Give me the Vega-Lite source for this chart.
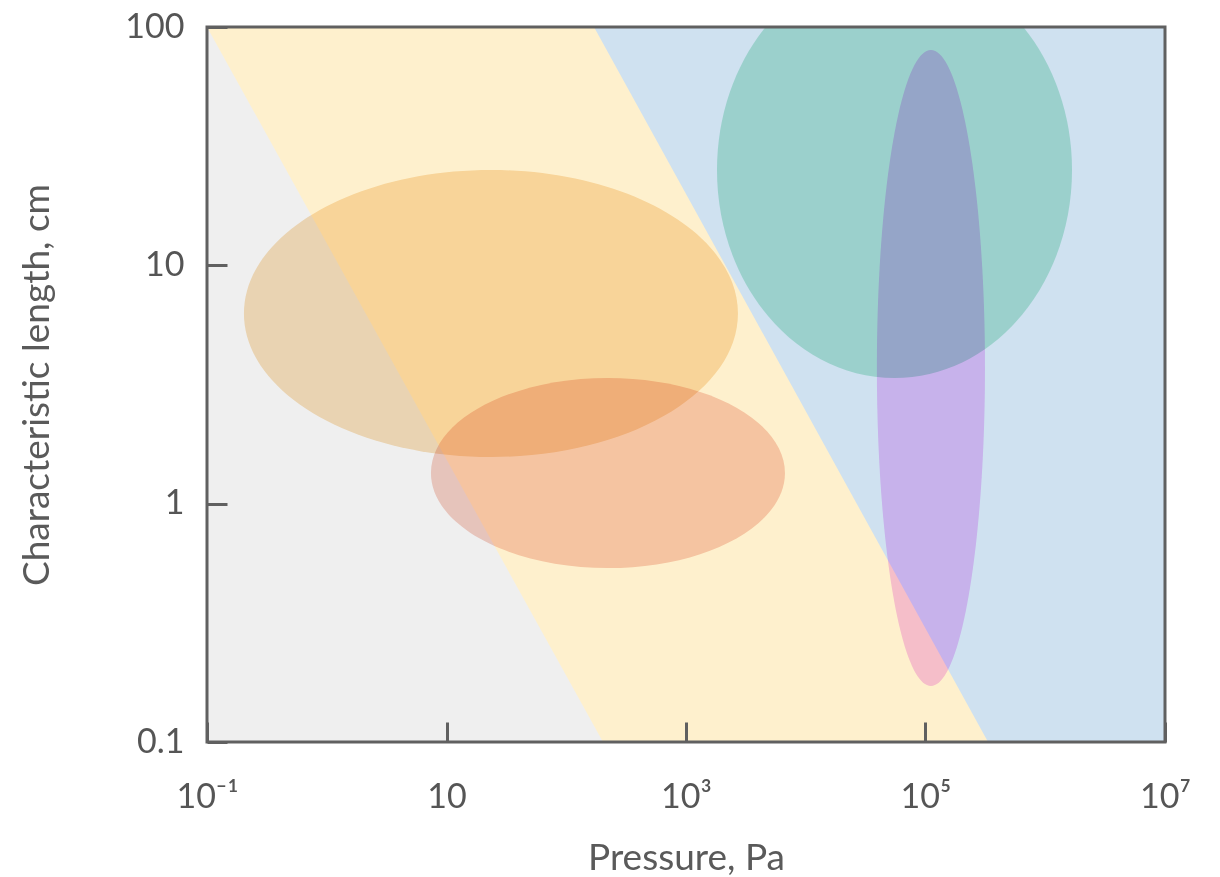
{
  "$schema": "https://vega.github.io/schema/vega-lite/v6.json",
  "width": 958,
  "height": 715,
  "autosize": {"type": "none"},
  "padding": {"left": 207, "top": 27, "right": 55, "bottom": 135},
  "background": "white",
  "config": {
    "font": "Lato",
    "view": {"stroke": null}
  },
  "datasets": {
    "blue": [{"p": 0.1, "p2": 10000000, "len": 0.1, "len2": 100}],
    "yellow": [{"p": 0.1, "len": 100}, {"p": 170.5, "len": 100}, {"p": 333000, "len": 0.1}],
    "gray": [{"p": 0.1, "len": 100}, {"p": 202.7, "len": 0.1}],
    "tan": [{"p": 23.5, "len": 6.28}],
    "salmon": [{"p": 223, "len": 1.345}],
    "teal": [{"p": 55100, "len": 25.1}],
    "lavender": [{"p": 111000, "len": 3.71}]
  },
  "layer": [
    {
      "data": {"name": "blue"},
      "mark": {"type": "rect", "fill": "#cfe1f0", "strokeWidth": 0},
      "encoding": {
        "x": {
          "field": "p", "type": "quantitative",
          "scale": {"type": "log", "domain": [0.1, 10000000], "nice": false},
          "axis": {
            "title": "Pressure, Pa",
            "values": [0.1, 10, 1000, 100000, 10000000],
            "labelExpr": "datum.value < 1 ? '10⁻¹' : datum.value < 100 ? '10' : datum.value < 10000 ? '10³' : datum.value < 1000000 ? '10⁵' : '10⁷'",
            "grid": false, "domain": false, "zindex": 1,
            "tickSize": -20, "tickWidth": 3, "tickColor": "#606060",
            "labelFontSize": 34, "labelColor": "#555555", "labelPadding": 58,
            "labelFlush": false, "labelOverlap": false,
            "titleFontSize": 37, "titleFontWeight": "normal", "titleColor": "#5a5a5a", "titlePadding": 26
          }
        },
        "x2": {"field": "p2"},
        "y": {
          "field": "len", "type": "quantitative",
          "scale": {"type": "log", "domain": [0.1, 100], "nice": false},
          "axis": {
            "title": "Characteristic length, cm",
            "values": [0.1, 1, 10, 100],
            "labelExpr": "datum.value < 1 ? '0.1' : format(datum.value, 'd')",
            "grid": false, "domain": false, "zindex": 1,
            "tickSize": -20, "tickWidth": 3, "tickColor": "#606060",
            "labelFontSize": 34, "labelColor": "#555555", "labelPadding": 43,
            "labelFlush": false, "labelOverlap": false,
            "titleFontSize": 37, "titleFontWeight": "normal", "titleColor": "#5a5a5a", "titlePadding": 68
          }
        },
        "y2": {"field": "len2"}
      }
    },
    {
      "data": {"name": "yellow"},
      "mark": {"type": "area", "fill": "#fef0cd", "strokeWidth": 0, "opacity": 1},
      "encoding": {
        "x": {"field": "p", "type": "quantitative", "title": "Pressure, Pa"},
        "y": {"field": "len", "type": "quantitative", "title": "Characteristic length, cm"},
        "y2": {"datum": 0.1}
      }
    },
    {
      "data": {"name": "gray"},
      "mark": {"type": "area", "fill": "#efefef", "strokeWidth": 0, "opacity": 1},
      "encoding": {
        "x": {"field": "p", "type": "quantitative", "title": "Pressure, Pa"},
        "y": {"field": "len", "type": "quantitative", "title": "Characteristic length, cm"},
        "y2": {"datum": 0.1}
      }
    },
    {
      "data": {"name": "tan"},
      "mark": {"type": "point", "shape": "M -1 0 A 1 0.581 0 1 0 1 0 A 1 0.581 0 1 0 -1 0 Z", "size": 244036, "filled": true, "fill": "#f9e2be", "opacity": 1, "strokeWidth": 0, "blend": "multiply"},
      "encoding": {
        "x": {"field": "p", "type": "quantitative", "title": "Pressure, Pa"},
        "y": {"field": "len", "type": "quantitative", "title": "Characteristic length, cm"}
      }
    },
    {
      "data": {"name": "salmon"},
      "mark": {"type": "point", "shape": "M -1 0 A 1 0.537 0 1 0 1 0 A 1 0.537 0 1 0 -1 0 Z", "size": 125316, "filled": true, "fill": "#f6d1c8", "opacity": 1, "strokeWidth": 0, "blend": "multiply"},
      "encoding": {
        "x": {"field": "p", "type": "quantitative", "title": "Pressure, Pa"},
        "y": {"field": "len", "type": "quantitative", "title": "Characteristic length, cm"}
      }
    },
    {
      "data": {"name": "teal"},
      "mark": {"type": "point", "shape": "M -0.8534 0 A 0.8534 1 0 1 0 0.8534 0 A 0.8534 1 0 1 0 -0.8534 0 Z", "size": 173056, "filled": true, "fill": "#9bd0cc", "opacity": 1, "strokeWidth": 0, "clip": true},
      "encoding": {
        "x": {"field": "p", "type": "quantitative", "title": "Pressure, Pa"},
        "y": {"field": "len", "type": "quantitative", "title": "Characteristic length, cm"}
      }
    },
    {
      "data": {"name": "lavender"},
      "mark": {"type": "point", "shape": "M -0.17 0 A 0.17 1 0 1 0 0.17 0 A 0.17 1 0 1 0 -0.17 0 Z", "size": 404496, "filled": true, "fill": "#f6cafa", "opacity": 1, "strokeWidth": 0, "blend": "multiply"},
      "encoding": {
        "x": {"field": "p", "type": "quantitative", "title": "Pressure, Pa"},
        "y": {"field": "len", "type": "quantitative", "title": "Characteristic length, cm"}
      }
    },
    {
      "data": {"name": "blue"},
      "mark": {"type": "rect", "fill": null, "fillOpacity": 0, "stroke": "#606060", "strokeWidth": 3},
      "encoding": {
        "x": {"field": "p", "type": "quantitative", "title": "Pressure, Pa"},
        "x2": {"field": "p2"},
        "y": {"field": "len", "type": "quantitative", "title": "Characteristic length, cm"},
        "y2": {"field": "len2"}
      }
    }
  ]
}
